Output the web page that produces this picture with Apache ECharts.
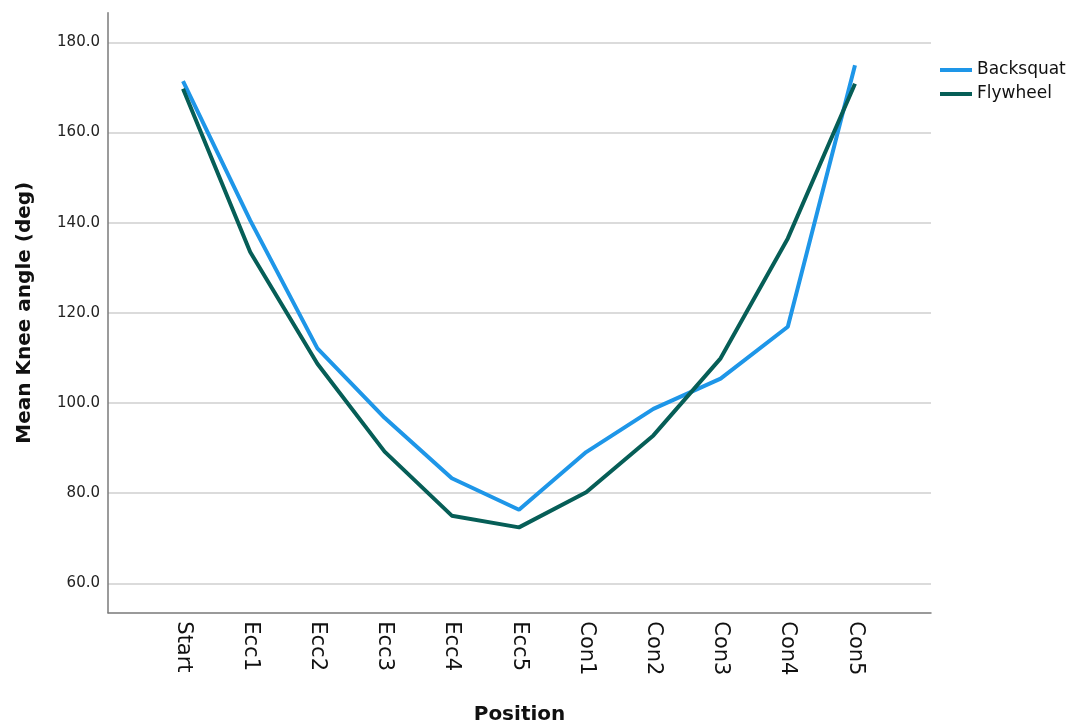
<!DOCTYPE html>
<html>
<head>
<meta charset="utf-8">
<script src="https://cdn.jsdelivr.net/npm/echarts@6/dist/echarts.min.js"></script>
<style>
  html, body { margin: 0; padding: 0; background: #ffffff; }
  #chart { width: 1075px; height: 726px; }
</style>
</head>
<body>
<div id="chart"></div>
<script>
// Knee angle through the squat phases
const positions = ['Start', 'Ecc1', 'Ecc2', 'Ecc3', 'Ecc4', 'Ecc5', 'Con1', 'Con2', 'Con3', 'Con4', 'Con5'];
const backsquat = [171.4, 140.5, 112.1, 96.7, 83.3, 76.3, 89.1, 98.7, 105.4, 116.9, 174.9];
const flywheel  = [169.7, 133.5, 108.7, 89.2, 75.0, 72.4, 80.2, 92.8, 109.9, 136.5, 170.8];
const yTicks = { min: 60, max: 180, step: 20 };

const FONT = 'DejaVu Sans';
const chart = echarts.init(document.getElementById('chart'), null, { renderer: 'canvas' });

const hiddenAxis = {
  axisLine: { show: false }, axisTick: { show: false },
  axisLabel: { show: false }, splitLine: { show: false }
};

chart.setOption({
  animation: false,
  backgroundColor: '#ffffff',
  textStyle: { fontFamily: FONT },
  grid: [
    // outer frame carrying the two axis lines and titles
    { left: 108, right: 144, top: 12.7, bottom: 113.3, outerBoundsMode: 'none', containLabel: false },
    // value grid: horizontal reference lines and tick labels
    { left: 108, right: 144, top: 42.3, bottom: 142.7, outerBoundsMode: 'none', containLabel: false },
    // data grid: category positions
    { left: 183, right: 220, top: 42.3, bottom: 142.7, outerBoundsMode: 'none', containLabel: false }
  ],
  xAxis: [
    {
      gridIndex: 0, type: 'value', min: 0, max: 1,
      name: 'Position', nameLocation: 'middle', nameGap: 92,
      nameTextStyle: { fontFamily: FONT, fontSize: 20, fontWeight: 'bold', color: '#111' },
      axisLine: { show: true, onZero: false, lineStyle: { color: '#7a7a7a', width: 1.5 } },
      axisTick: { show: false }, axisLabel: { show: false }, splitLine: { show: false }
    },
    Object.assign({ gridIndex: 1, type: 'value', min: 0, max: 1 }, hiddenAxis),
    {
      gridIndex: 2, type: 'category', data: positions, boundaryGap: false,
      axisLine: { show: false }, axisTick: { show: false }, splitLine: { show: false },
      axisLabel: { rotate: -90, margin: 38, fontFamily: FONT, fontSize: 21, color: '#111', interval: 0 }
    }
  ],
  yAxis: [
    {
      gridIndex: 0, type: 'value', min: 0, max: 1,
      name: 'Mean Knee angle (deg)', nameLocation: 'middle', nameGap: 73,
      nameTextStyle: { fontFamily: FONT, fontSize: 20, fontWeight: 'bold', color: '#111' },
      axisLine: { show: true, onZero: false, lineStyle: { color: '#7a7a7a', width: 1.5 } },
      axisTick: { show: false }, axisLabel: { show: false }, splitLine: { show: false }
    },
    {
      gridIndex: 1, type: 'value', min: yTicks.min, max: yTicks.max, interval: yTicks.step,
      axisLine: { show: false }, axisTick: { show: false },
      axisLabel: { margin: 8, fontFamily: FONT, fontSize: 15, color: '#222',
                   formatter: v => v.toFixed(1) },
      splitLine: { show: true, lineStyle: { color: '#cfcfcf', width: 1.5 } }
    },
    Object.assign({ gridIndex: 2, type: 'value', min: yTicks.min, max: yTicks.max }, hiddenAxis)
  ],
  legend: {
    orient: 'vertical', left: 935, top: 56,
    icon: 'rect', itemWidth: 32, itemHeight: 4, itemGap: 6,
    textStyle: { fontFamily: FONT, fontSize: 17, color: '#111', lineHeight: 18 },
    data: ['Backsquat', 'Flywheel']
  },
  series: [
    {
      name: 'Backsquat', type: 'line', xAxisIndex: 2, yAxisIndex: 2,
      data: backsquat, showSymbol: false, symbol: 'none',
      itemStyle: { color: '#1e96e8' },
      lineStyle: { color: '#1e96e8', width: 4 }
    },
    {
      name: 'Flywheel', type: 'line', xAxisIndex: 2, yAxisIndex: 2,
      data: flywheel, showSymbol: false, symbol: 'none',
      itemStyle: { color: '#065e57' },
      lineStyle: { color: '#065e57', width: 4 }
    }
  ]
});
</script>
</body>
</html>
